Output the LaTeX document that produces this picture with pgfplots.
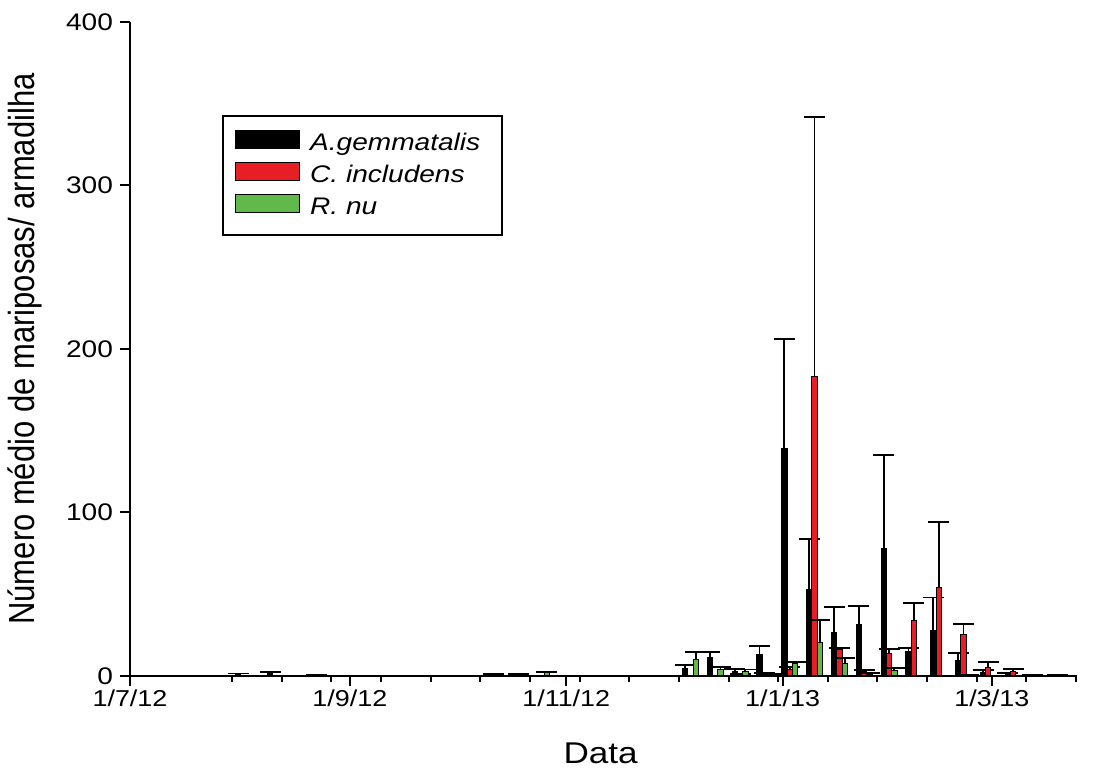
\documentclass[border=0pt]{standalone}
\usepackage{fontspec}
\setmainfont{Liberation Sans}[FakeStretch=1.17]
\newfontfamily\ylabfont{Liberation Sans}
\usepackage{graphicx}
\usepackage{pgfplots}
\usepackage{pgfplotstable}
\pgfplotsset{compat=1.18}

\definecolor{cred}{RGB}{232,30,38}
\definecolor{cgreen}{RGB}{96,185,72}

% Weekly means per trap (day counted from 1/7/12), value and upper error
\pgfplotstableread{
x y e
32 0.8 0.7
41 1.5 1.0
54 0.3 0.4
104 0.5 0.5
111 0.5 0.5
158 4.5 2.0
165 11.2 3.7
172 3.0 1.5
179 13.3 5.2
186 139 67
193 53 31
200 26.7 15.3
207 31.6 11.2
214 77.7 57.5
221 14.9 2.4
228 28 20
235 9.2 4.7
242 2.0 1.5
249 1.0 0.6
256 0.4 0.3
263 0.3 0.2
}\tblA

\pgfplotstableread{
x y e
172 0.5 0.5
179 1.0 0.8
186 4.0 1.7
193 183 159
200 15.9 1.4
207 2.5 1.2
214 13.9 2.4
221 34.2 10.3
228 54 40
235 25.1 6.7
242 5.5 3.0
249 3.0 1.3
}\tblC

\pgfplotstableread{
x y e
116 2.5 0
158 10.2 4.3
165 4.1 1.6
172 3.0 1.0
179 0.5 0.5
186 7.7 1.1
193 20.6 13.6
200 7.7 3.5
207 1.0 1.0
214 3.3 1.8
235 0.3 0.3
}\tblR

\pgfplotsset{
  errbars/.style={
    error bars/.cd,
      y dir=plus, y explicit, error mark=|,
      error bar style={line width=0.9pt, black},
      error mark options={line width=0.9pt, mark size=5.25pt, black}
  }
}

\begin{document}
\begin{tikzpicture}
\begin{axis}[
  scale only axis, width=473.5pt, height=327pt,
  xmin=0, xmax=267, ymin=0, ymax=400,
  axis lines=left, axis line style={-, line width=1pt},
  tick align=outside, tick style={line width=1pt, black},
  major tick length=5pt, minor tick length=3pt,
  xtick={0,62,123,184,243},
  xticklabels={1/7/12,1/9/12,1/11/12,1/1/13,1/3/13},
  minor xtick={28.75,42.75,...,266.75},
  ytick={0,100,200,300,400},
  yticklabel style={font=\fontsize{12}{14}\selectfont},
  xticklabel style={font=\fontsize{11.5}{14}\selectfont, yshift=1.5pt},
  /pgf/number format/assume math mode=true,
  xlabel={Data},
  xlabel style={at={(axis description cs:0.497,-0.118)}, anchor=center,
    font=\fontsize{15}{18}\selectfont},
  ylabel={\ylabfont\scalebox{1}[1.17]{Número médio de mariposas/ armadilha}},
  ylabel style={at={(axis description cs:-0.111,0.5)}, anchor=center,
    font=\fontsize{15.5}{18}\selectfont},
  clip=false,
  legend cell align=left,
  legend image code/.code={\draw[#1, line width=0.6pt] (0pt,-1.8pt) rectangle (32pt,7.2pt);},
  legend style={at={(axis description cs:0.0971,0.858)}, anchor=north west,
    draw=black, line width=1pt, inner xsep=6pt, inner ysep=7pt,
    row sep=2.5pt, font=\fontsize{12}{14}\selectfont\itshape,
    nodes={inner xsep=5pt, inner ysep=0pt, text height=9pt, text depth=3pt}},
]
\addplot[ybar, bar width=1.5, bar shift=0, fill=black, draw=black, line width=0.5pt, errbars]
  table[x expr=\thisrow{x}-1.5, y=y, y error=e] {\tblA};
\addlegendentry{A.gemmatalis}
\addplot[ybar, bar width=1.5, bar shift=0, fill=cred, draw=black, line width=0.5pt, errbars]
  table[x=x, y=y, y error=e] {\tblC};
\addlegendentry{C. includens}
\addplot[ybar, bar width=1.5, bar shift=0, fill=cgreen, draw=black, line width=0.5pt, errbars]
  table[x expr=\thisrow{x}+1.5, y=y, y error=e] {\tblR};
\addlegendentry{R. nu}
\end{axis}
\pgfresetboundingbox
\path[use as bounding box] (-65pt,-49.5pt) rectangle (481.5pt,338pt);
\end{tikzpicture}
\end{document}
